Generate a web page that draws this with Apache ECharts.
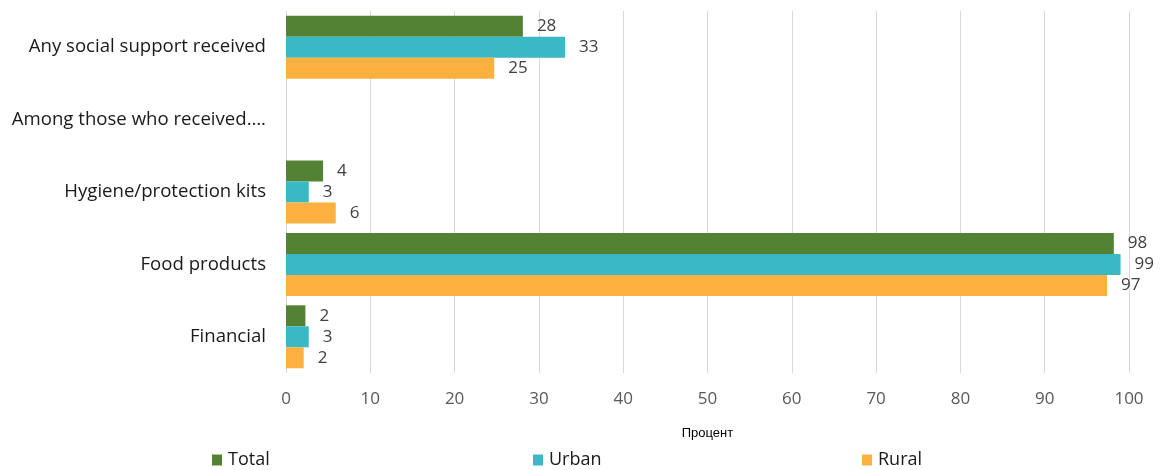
<!DOCTYPE html>
<html><head><meta charset="utf-8">
<script src="https://cdn.jsdelivr.net/npm/echarts@6/dist/echarts.min.js"></script>
<style>html,body{margin:0;padding:0;background:#fff}#c{width:1174px;height:470px}</style>
</head><body><div id="c"></div>
<script>
const categories = ["Any social support received", "Among those who received….", "Hygiene/protection kits", "Food products", "Financial"];
const seriesNames = ["Total", "Urban", "Rural"];
const totalValues = [28.1, null, 4.4, 98.2, 2.3];
const urbanValues = [33.1, null, 2.7, 99.0, 2.7];
const ruralValues = [24.7, null, 5.9, 97.4, 2.1];
const xTicks = [0, 10, 20, 30, 40, 50, 60, 70, 80, 90, 100];
const axisTitle = "Процент";

const colors = ["#548235", "#3BB8C6", "#FBB040"];
const font = "'Open Sans', 'Liberation Sans', sans-serif";
const chart = echarts.init(document.getElementById('c'));
const values = [totalValues, urbanValues, ruralValues];
const legendLefts = [207, 528, 857];
chart.setOption({
  animation: false,
  grid: {left: 286, right: 45, top: 11, bottom: 97, containLabel: false},
  xAxis: {
    type: 'value', min: xTicks[0], max: xTicks[xTicks.length-1], interval: 10,
    axisLine: {show: false}, axisTick: {show: false},
    splitLine: {lineStyle: {color: '#d9d9d9', width: 1}},
    axisLabel: {color: '#595959', fontSize: 17, fontFamily: font, margin: 18},
    name: axisTitle, nameLocation: 'middle', nameGap: 54,
    nameTextStyle: {color: '#000', fontSize: 13, fontFamily: "'Liberation Sans', sans-serif"}
  },
  yAxis: {
    type: 'category', data: categories, inverse: true,
    axisLine: {show: true, lineStyle: {color: '#d9d9d9'}}, axisTick: {show: false},
    axisLabel: {color: '#1a1a1a', fontSize: 18.6, fontFamily: font, margin: 20}
  },
  legend: seriesNames.map((n, i) => ({
    data: [n], left: legendLefts[i], top: 446, icon: 'rect', itemWidth: 10, itemHeight: 11, itemGap: 4,
    textStyle: {color: '#1a1a1a', fontSize: 18, fontFamily: font, padding: [0,0,0,1]}
  })),
  series: seriesNames.map((n, i) => ({
    name: n, type: 'bar', data: values[i], barWidth: 21, barGap: '0%',
    itemStyle: {color: colors[i]},
    label: {show: true, position: 'right', distance: 14, color: '#404040', fontSize: 17, fontFamily: font,
      formatter: p => p.value == null ? '' : Math.round(p.value)}
  }))
});
</script></body></html>
